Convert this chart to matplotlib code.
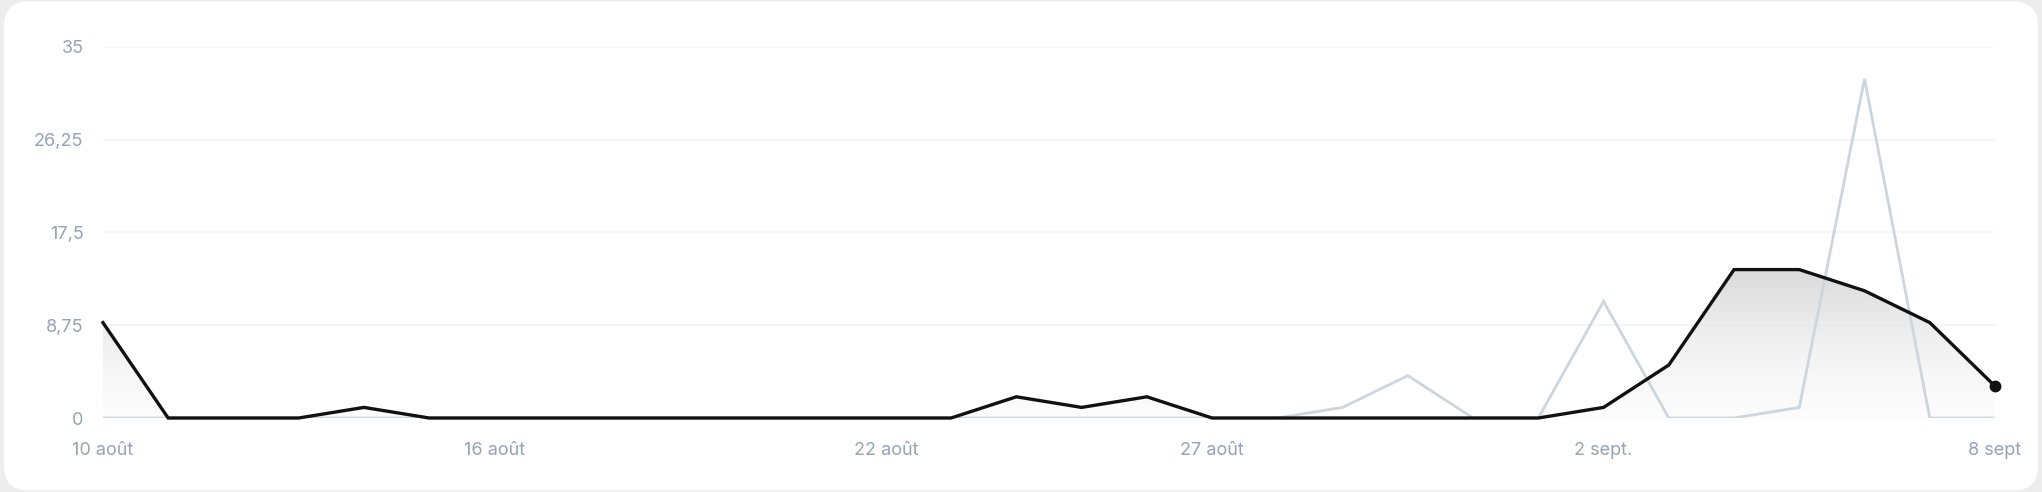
import matplotlib
matplotlib.use('Agg')
import matplotlib.pyplot as plt
from matplotlib.patches import FancyBboxPatch, Polygon
import numpy as np

plt.rcParams['font.family'] = ['Inter', 'DejaVu Sans']

# one point per day, 10 août -> 8 sept
days = np.arange(30)
current = [9, 0, 0, 0, 1, 0, 0, 0, 0, 0, 0, 0, 0, 0, 2, 1, 2, 0, 0, 0,
           0, 0, 0, 1, 5, 14, 14, 12, 9, 3]
previous = [0, 0, 0, 0, 0, 0, 0, 0, 0, 0, 0, 0, 0, 0, 0, 0, 0, 0, 0, 1,
            4, 0, 0, 11, 0, 0, 1, 32, 0, 0]
xtick_pos = [0, 6, 12, 17, 23, 29]
xtick_labels = ['10 août', '16 août', '22 août', '27 août', '2 sept.', '8 sept']
ytick_vals = [0, 8.75, 17.5, 26.25, 35]
ytick_labels = ['0', '8,75', '17,5', '26,25', '35']

LABEL_COLOR = '#94a3b8'
GRAY_LINE = '#cdd5de'

fig = plt.figure(figsize=(20.42, 4.92), dpi=100)
fig.patch.set_facecolor('#ededed')
card = FancyBboxPatch((0.002, 0.003), 0.996, 0.994,
                      boxstyle='round,pad=0,rounding_size=0.012',
                      transform=fig.transFigure, facecolor='white',
                      edgecolor='none', mutation_aspect=2042 / 492, zorder=-5)
fig.patches.append(card)

ax = fig.add_axes([0.0504, 0.1504, 0.9266, 0.7541])
ax.set_facecolor('none')
ax.set_xlim(0, 29)
ax.set_ylim(0, 35)

for y in ytick_vals[1:]:
    ax.axhline(y, color='#f1f3f6', lw=1.2, zorder=0)

# gradient fill under the current series
grad = np.linspace(0, 1, 256).reshape(-1, 1)
top = max(current)
im = ax.imshow(grad, extent=[0, 29, 0, top], origin='lower', aspect='auto',
               cmap=matplotlib.colors.LinearSegmentedColormap.from_list(
                   'g', [(0.97, 0.97, 0.97, 0.3), (0.855, 0.855, 0.855, 1.0)]),
               zorder=1)
verts = [(0, 0)] + list(zip(days, current)) + [(29, 0)]
clip = Polygon(verts, closed=True, transform=ax.transData, facecolor='none', edgecolor='none')
ax.add_patch(clip)
im.set_clip_path(clip)

ax.plot(days, previous, color=GRAY_LINE, lw=2.0, zorder=2, solid_joinstyle='miter')
ax.plot(days, current, color='#111111', lw=2.4, zorder=3, solid_joinstyle='miter',
        clip_on=False)
ax.plot(days[-1], current[-1], 'o', color='#111111', ms=7.5, zorder=4, clip_on=False)

for s in ax.spines.values():
    s.set_visible(False)
ax.set_xticks(xtick_pos)
ax.set_xticklabels(xtick_labels)
ax.set_yticks(ytick_vals)
ax.set_yticklabels(ytick_labels)
ax.tick_params(length=0, labelsize=13, colors=LABEL_COLOR)
ax.tick_params(axis='x', pad=17)
ax.tick_params(axis='y', pad=14)

fig.savefig('out.png', dpi=100, facecolor=fig.get_facecolor())
